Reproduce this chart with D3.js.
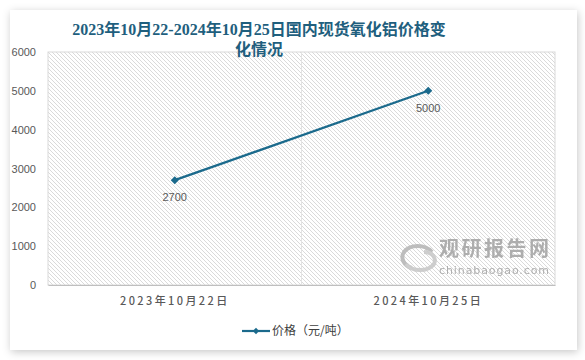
<!DOCTYPE html>
<html><head><meta charset="utf-8">
<script src="https://cdn.jsdelivr.net/npm/d3@7/dist/d3.min.js"></script>
<style>html,body{margin:0;padding:0;background:#fff;}svg{display:block;}</style>
</head><body>
<svg id="c" width="585" height="360"></svg>
<script>
const categories = ["2023年10月22日", "2024年10月25日"];
const values = [2700, 5000];
const yTicks = [0, 1000, 2000, 3000, 4000, 5000, 6000];
const seriesName = "价格（元/吨）";
const titleLines = ["2023年10月22-2024年10月25日国内现货氧化铝价格变", "化情况"];

const svg = d3.select("#c");
const defs = svg.append("defs");
const f = defs.append("filter").attr("id","sh").attr("x","-10%").attr("y","-10%").attr("width","120%").attr("height","120%");
f.append("feDropShadow").attr("dx",1).attr("dy",2).attr("stdDeviation",4).attr("flood-color","#000").attr("flood-opacity",0.22);
const pat = defs.append("pattern").attr("id","hatch").attr("patternUnits","userSpaceOnUse").attr("width",4).attr("height",4);
pat.append("path").attr("d","M-1,-1L5,5M-1,3L1,5M3,-1L5,1").attr("stroke","#d6d6d6").attr("stroke-width",0.9);

svg.append("rect").attr("x",10).attr("y",10).attr("width",567).attr("height",340).attr("fill","#fff").attr("filter","url(#sh)");

const m = {l:48, r:555, t:52, b:285};
const x = d3.scaleBand().domain(categories).range([m.l, m.r]);
const y = d3.scaleLinear().domain([0,6000]).range([m.b, m.t]);

svg.append("rect").attr("x",m.l).attr("y",m.t).attr("width",m.r-m.l).attr("height",m.b-m.t)
  .attr("fill","url(#hatch)").attr("stroke","#d9d9d9").attr("stroke-width",1);
svg.append("line").attr("x1",x(categories[1])).attr("x2",x(categories[1])).attr("y1",m.t).attr("y2",m.b).attr("stroke","#e3e3e3");

// watermark
const wm = svg.append("g").attr("opacity",0.9);
wm.append("path").attr("d","M432,252 C425,244 410,244 404,252 C400,258 404,266 412,268").attr("fill","none").attr("stroke","#b8b8b8").attr("stroke-width",4);
wm.append("path").attr("d","M406,264 C412,272 428,272 434,264 C437,258 432,252 424,252").attr("fill","none").attr("stroke","#c9c9c9").attr("stroke-width",4);
wm.append("text").attr("x",439).attr("y",256).attr("font-family","Noto Sans CJK SC").attr("font-weight",700).attr("font-size",20).attr("fill","#a6a6a6").attr("textLength",110).text("观研报告网");
wm.append("text").attr("x",439).attr("y",274).attr("font-family","DejaVu Sans").attr("font-size",11).attr("fill","#a6a6a6").attr("textLength",110).text("chinabaogao.com");

// y axis
const ya = svg.append("g").attr("transform",`translate(${m.l-12},0)`)
  .call(d3.axisLeft(y).tickValues(yTicks).tickSize(0).tickPadding(0).tickFormat(d3.format("d")));
ya.select(".domain").remove();
ya.selectAll("text").attr("font-family","Liberation Sans, Arial").attr("font-size",11).attr("fill","#595959");

// x axis
const xa = svg.append("g").attr("transform",`translate(0,${m.b})`)
  .call(d3.axisBottom(x).tickSize(0).tickPadding(12));
xa.select(".domain").attr("stroke","#bfbfbf");
xa.selectAll("text").attr("font-family","Noto Sans CJK SC").attr("font-size",11).attr("fill","#595959").attr("letter-spacing","2.4px").attr("font-weight",500);

const color = "#1b6a8c";
const pts = categories.map((c,i)=>({c, v:values[i]}));
svg.append("path").datum(pts)
  .attr("d", d3.line().x(d=>x(d.c)+x.bandwidth()/2).y(d=>y(d.v)))
  .attr("fill","none").attr("stroke",color).attr("stroke-width",2.2);
const sym = d3.symbol().type(d3.symbolSquare).size(32);
svg.selectAll(".mk").data(pts).join("path").attr("class","mk")
  .attr("transform",d=>`translate(${x(d.c)+x.bandwidth()/2},${y(d.v)}) rotate(45)`).attr("d",sym).attr("fill",color);
svg.selectAll(".lb").data(pts).join("text").attr("class","lb")
  .attr("x",d=>x(d.c)+x.bandwidth()/2).attr("y",d=>y(d.v)+21)
  .attr("text-anchor","middle").attr("font-family","Liberation Sans, Arial").attr("font-size",11).attr("fill","#595959").text(d=>d.v);

// title
svg.selectAll(".tt").data(titleLines).join("text").attr("class","tt")
  .attr("x",259).attr("y",(d,i)=>35+i*20).attr("text-anchor","middle")
  .attr("font-family","Liberation Serif, Noto Sans CJK SC").attr("font-weight",700).attr("font-size",16).attr("fill","#1f5f7e").text(d=>d);

// legend
const lg = svg.append("g");
lg.append("line").attr("x1",242).attr("x2",270).attr("y1",331).attr("y2",331).attr("stroke",color).attr("stroke-width",2.2);
lg.append("path").attr("transform","translate(256,331) rotate(45)").attr("d",d3.symbol().type(d3.symbolSquare).size(20)).attr("fill",color);
lg.append("text").attr("x",272).attr("y",335).attr("font-family","Noto Sans CJK SC").attr("font-size",12).attr("fill","#404040").text(seriesName);
</script>
</body></html>
